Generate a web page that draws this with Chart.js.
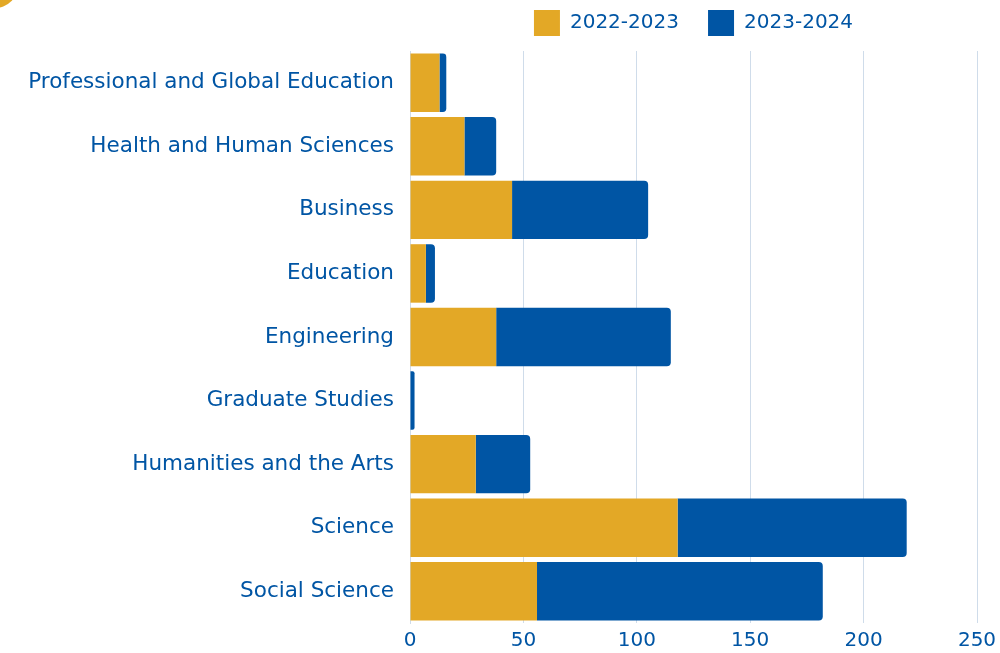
<!DOCTYPE html>
<html>
<head>
<meta charset="utf-8">
<script src="https://cdn.jsdelivr.net/npm/chart.js@4.4.1/dist/chart.umd.min.js"></script>
<style>
  html, body { margin: 0; padding: 0; background: #fff; }
  #wrap { position: relative; width: 1000px; height: 653px; overflow: hidden; }
  #dot { position: absolute; left: -28px; top: -38px; width: 46px; height: 46px; border-radius: 50%; background: #e3a826; }
</style>
</head>
<body>
<div id="wrap">
  <canvas id="chart" width="1000" height="653"></canvas>
  <div id="dot"></div>
</div>
<script>
// Colleges
const colleges = [
  'Professional and Global Education',
  'Health and Human Sciences',
  'Business',
  'Education',
  'Engineering',
  'Graduate Studies',
  'Humanities and the Arts',
  'Science',
  'Social Science'
];

// counts per year (stacked)
const year2223 = [13, 24, 45, 7, 38, 0, 29, 118, 56];
const year2324 = [3, 14, 60, 4, 77, 2, 24, 101, 126];

const xTicks = [0, 50, 100, 150, 200, 250];

const yellow = '#e3a826';
const blue = '#0055a4';
const gridColor = '#cfdcea';
const fontName = "'DejaVu Sans', sans-serif";

// legend is a bit taller in the original
const legendSpace = {
  id: 'legendSpace',
  afterInit: function(chart) {
    const legend = chart.legend;
    if (!legend) return;
    const fit = legend.fit;
    legend.fit = function() {
      fit.call(this);
      this.height += 5;
    };
  }
};

var config = {
  type: 'bar',
  data: {
    labels: colleges,
    datasets: [{
      label: '2022-2023',
      data: year2223,
      backgroundColor: yellow,
      categoryPercentage: 1,
      barPercentage: 0.92
    }, {
      label: '2023-2024',
      data: year2324,
      backgroundColor: blue,
      borderRadius: 4,
      borderSkipped: 'start',
      categoryPercentage: 1,
      barPercentage: 0.92
    }]
  },
  options: {
    indexAxis: 'y',
    responsive: false,
    animation: false,
    layout: {
      padding: { left: 0, right: 23, top: 0, bottom: 0 }
    },
    plugins: {
      legend: {
        position: 'top',
        fullSize: false,
        labels: {
          boxWidth: 26,
          boxHeight: 26,
          padding: 10,
          color: blue,
          font: { family: fontName, size: 20 },
          // extra room after the first item
          generateLabels: function(chart) {
            const items = Chart.defaults.plugins.legend.labels.generateLabels(chart);
            items[0].text = items[0].text + '   ';
            return items;
          }
        }
      },
      tooltip: { enabled: false }
    },
    scales: {
      x: {
        stacked: true,
        min: 0,
        max: 250,
        afterBuildTicks: function(scale) {
          scale.ticks = xTicks.map(function(v) { return { value: v }; });
        },
        afterFit: function(scale) {
          scale.height = 30;
          scale.paddingRight = 0;
        },
        grid: {
          color: gridColor,
          drawTicks: false
        },
        border: { display: false },
        ticks: {
          color: blue,
          padding: 6,
          font: { family: fontName, size: 20 }
        }
      },
      y: {
        stacked: true,
        grid: { display: false },
        border: { display: true, color: gridColor },
        afterFit: function(scale) { scale.width = 410; },
        ticks: {
          color: blue,
          padding: 8,
          font: { family: fontName, size: 21.5 }
        }
      }
    }
  },
  plugins: [legendSpace]
};

var ctx = document.getElementById('chart');
var chart = new Chart(ctx, config);
</script>
</body>
</html>
